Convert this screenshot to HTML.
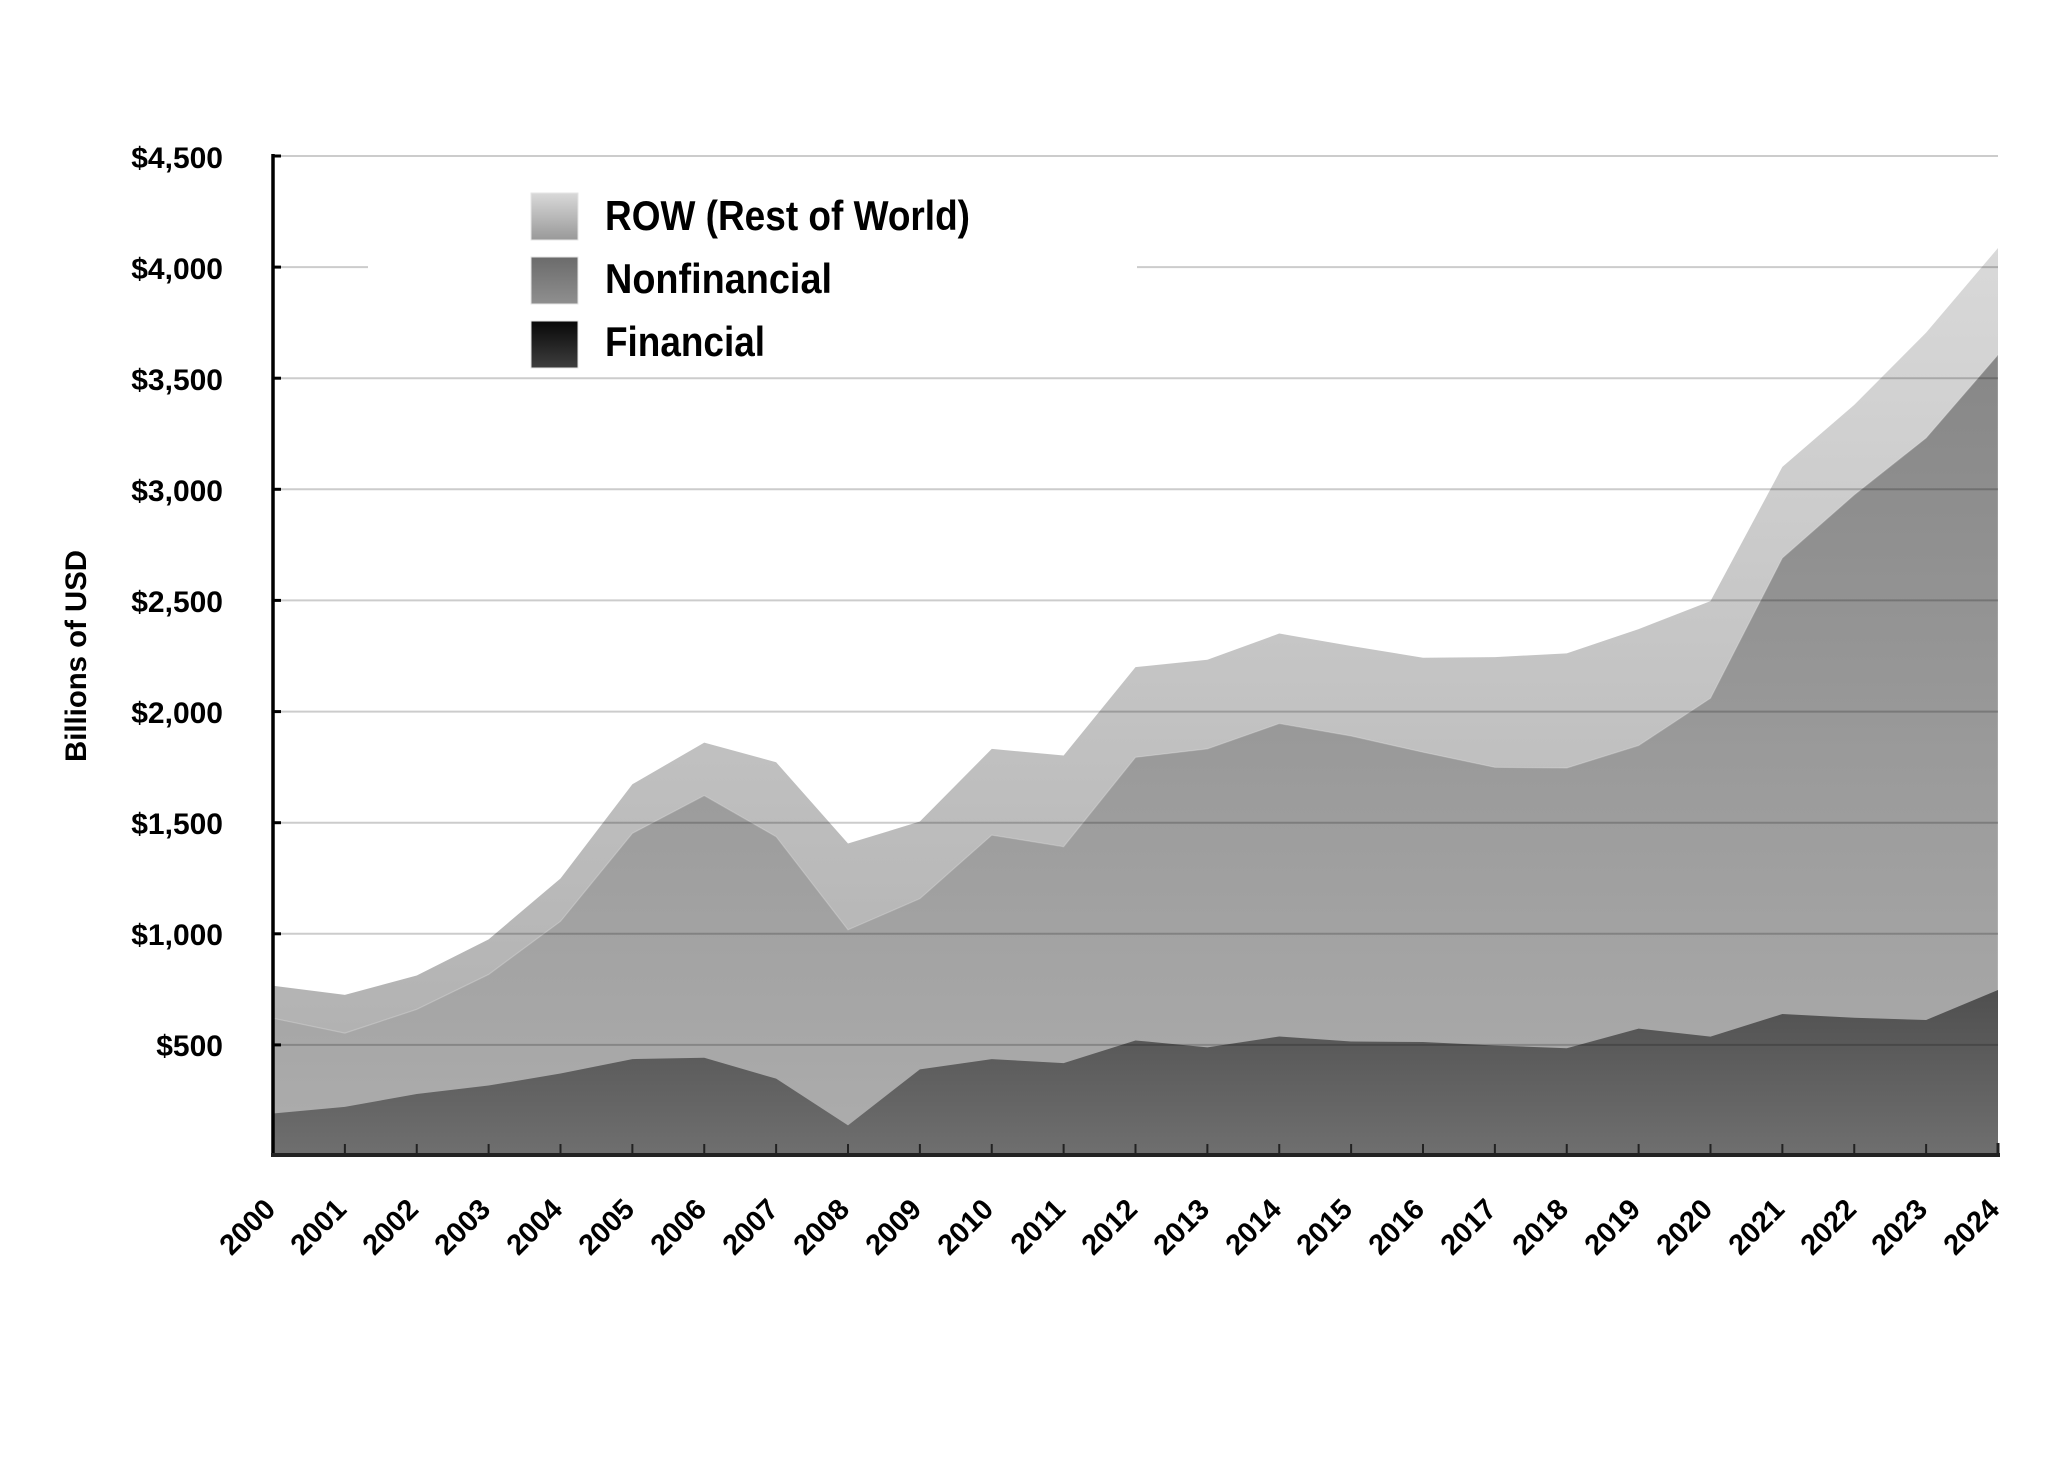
<!DOCTYPE html>
<html>
<head>
<meta charset="utf-8">
<style>
  html, body { margin: 0; padding: 0; background: #ffffff; }
  svg { display: block; }
  text { font-family: "Liberation Sans", "DejaVu Sans", sans-serif; font-weight: bold; fill: #000; }
</style>
</head>
<body>
<svg width="2048" height="1462" viewBox="0 0 2048 1462" xmlns="http://www.w3.org/2000/svg">
  <defs>
    <linearGradient id="gRow" gradientUnits="userSpaceOnUse" x1="0" y1="248" x2="0" y2="1156">
      <stop offset="0" stop-color="#d9d9d9"/>
      <stop offset="1" stop-color="#acacac"/>
    </linearGradient>
    <linearGradient id="gNon" gradientUnits="userSpaceOnUse" x1="0" y1="355" x2="0" y2="1156">
      <stop offset="0" stop-color="#878787"/>
      <stop offset="1" stop-color="#adadad"/>
    </linearGradient>
    <linearGradient id="gFin" gradientUnits="userSpaceOnUse" x1="0" y1="990" x2="0" y2="1156">
      <stop offset="0" stop-color="#4f4f4f"/>
      <stop offset="1" stop-color="#6f6f6f"/>
    </linearGradient>
    <linearGradient id="sRow" x1="0" y1="0" x2="0" y2="1">
      <stop offset="0" stop-color="#d9d9d9"/>
      <stop offset="1" stop-color="#999999"/>
    </linearGradient>
    <linearGradient id="sNon" x1="0" y1="0" x2="0" y2="1">
      <stop offset="0" stop-color="#6b6b6b"/>
      <stop offset="1" stop-color="#8f8f8f"/>
    </linearGradient>
    <linearGradient id="sFin" x1="0" y1="0" x2="0" y2="1">
      <stop offset="0" stop-color="#080808"/>
      <stop offset="1" stop-color="#3e3e3e"/>
    </linearGradient>
  </defs>

  <!-- ROW (total) area -->
  <polygon fill="url(#gRow)" points="273,1156 273,985.78 344.875,994.89 416.75,975.56 488.625,939.33 560.5,878.44 632.375,784.22 704.25,742.67 776.125,762.22 848,843.56 919.875,821.56 991.75,748.89 1063.625,755.56 1135.5,667.11 1207.375,659.78 1279.25,633.56 1351.125,646 1423,657.78 1494.875,657.11 1566.75,653.33 1638.625,629.11 1710.5,601.11 1782.375,466.89 1854.25,404.89 1926.125,332.67 1998,248 1998,1156"/>

  <!-- Nonfinancial (cumulative) area -->
  <polygon fill="url(#gNon)" stroke="rgba(255,255,255,0.22)" stroke-width="1.2" points="273,1156 273,1018.22 344.875,1033.11 416.75,1009.33 488.625,974.44 560.5,921.33 632.375,833.33 704.25,795.56 776.125,836.67 848,929.78 919.875,898.67 991.75,835.11 1063.625,846.67 1135.5,757.33 1207.375,748.89 1279.25,723.56 1351.125,736 1423,752.22 1494.875,767.33 1566.75,768 1638.625,745.56 1710.5,698.22 1782.375,558 1854.25,494.89 1926.125,438 1998,354.89 1998,1156"/>

  <!-- Financial area -->
  <polygon fill="url(#gFin)" points="273,1156 273,1113.56 344.875,1106.89 416.75,1094 488.625,1085.56 560.5,1073.56 632.375,1059.11 704.25,1057.78 776.125,1078.67 848,1125.33 919.875,1069.33 991.75,1059.11 1063.625,1063.11 1135.5,1040.44 1207.375,1047.33 1279.25,1036.44 1351.125,1041.56 1423,1042 1494.875,1045.56 1566.75,1048.22 1638.625,1028.67 1710.5,1036.67 1782.375,1014 1854.25,1017.78 1926.125,1020 1998,990 1998,1156"/>

  <!-- Gridlines -->
  <g stroke="rgba(0,0,0,0.2)" stroke-width="2" fill="none">
    <line x1="273" y1="156" x2="1998" y2="156"/>
    <line x1="273" y1="267.1" x2="368" y2="267.1"/>
    <line x1="1137" y1="267.1" x2="1998" y2="267.1"/>
    <line x1="273" y1="378.2" x2="1998" y2="378.2"/>
    <line x1="273" y1="489.3" x2="1998" y2="489.3"/>
    <line x1="273" y1="600.4" x2="1998" y2="600.4"/>
    <line x1="273" y1="711.6" x2="1998" y2="711.6"/>
    <line x1="273" y1="822.7" x2="1998" y2="822.7"/>
    <line x1="273" y1="933.8" x2="1998" y2="933.8"/>
    <line x1="273" y1="1044.9" x2="1998" y2="1044.9"/>
  </g>

  <!-- Left axis -->
  <line x1="273" y1="154" x2="273" y2="1157" stroke="#000" stroke-width="3.5"/>
  <g stroke="#000" stroke-width="3">
    <line x1="273" y1="156" x2="281" y2="156"/>
    <line x1="273" y1="267.1" x2="281" y2="267.1"/>
    <line x1="273" y1="378.2" x2="281" y2="378.2"/>
    <line x1="273" y1="489.3" x2="281" y2="489.3"/>
    <line x1="273" y1="600.4" x2="281" y2="600.4"/>
    <line x1="273" y1="711.6" x2="281" y2="711.6"/>
    <line x1="273" y1="822.7" x2="281" y2="822.7"/>
    <line x1="273" y1="933.8" x2="281" y2="933.8"/>
    <line x1="273" y1="1044.9" x2="281" y2="1044.9"/>
  </g>

  <!-- Bottom axis -->
  <line x1="271" y1="1155" x2="2000" y2="1155" stroke="#222" stroke-width="4"/>
  <g stroke="#222" stroke-width="2">
    <line x1="344.875" y1="1144" x2="344.875" y2="1155"/>
    <line x1="416.75" y1="1144" x2="416.75" y2="1155"/>
    <line x1="488.625" y1="1144" x2="488.625" y2="1155"/>
    <line x1="560.5" y1="1144" x2="560.5" y2="1155"/>
    <line x1="632.375" y1="1144" x2="632.375" y2="1155"/>
    <line x1="704.25" y1="1144" x2="704.25" y2="1155"/>
    <line x1="776.125" y1="1144" x2="776.125" y2="1155"/>
    <line x1="848" y1="1144" x2="848" y2="1155"/>
    <line x1="919.875" y1="1144" x2="919.875" y2="1155"/>
    <line x1="991.75" y1="1144" x2="991.75" y2="1155"/>
    <line x1="1063.625" y1="1144" x2="1063.625" y2="1155"/>
    <line x1="1135.5" y1="1144" x2="1135.5" y2="1155"/>
    <line x1="1207.375" y1="1144" x2="1207.375" y2="1155"/>
    <line x1="1279.25" y1="1144" x2="1279.25" y2="1155"/>
    <line x1="1351.125" y1="1144" x2="1351.125" y2="1155"/>
    <line x1="1423" y1="1144" x2="1423" y2="1155"/>
    <line x1="1494.875" y1="1144" x2="1494.875" y2="1155"/>
    <line x1="1566.75" y1="1144" x2="1566.75" y2="1155"/>
    <line x1="1638.625" y1="1144" x2="1638.625" y2="1155"/>
    <line x1="1710.5" y1="1144" x2="1710.5" y2="1155"/>
    <line x1="1782.375" y1="1144" x2="1782.375" y2="1155"/>
    <line x1="1854.25" y1="1144" x2="1854.25" y2="1155"/>
    <line x1="1926.125" y1="1144" x2="1926.125" y2="1155"/>
    <line x1="1998" y1="1143" x2="1998" y2="1155" stroke-width="3"/>
  </g>

  <!-- Y tick labels -->
  <g font-size="30" text-anchor="end">
    <text x="223" y="168">$4,500</text>
    <text x="223" y="279">$4,000</text>
    <text x="223" y="390">$3,500</text>
    <text x="223" y="501">$3,000</text>
    <text x="223" y="612">$2,500</text>
    <text x="223" y="723">$2,000</text>
    <text x="223" y="834">$1,500</text>
    <text x="223" y="945">$1,000</text>
    <text x="223" y="1056">$500</text>
  </g>

  <!-- Y axis title -->
  <text x="0" y="0" font-size="30" text-anchor="middle" textLength="212" lengthAdjust="spacingAndGlyphs" transform="translate(86,656) rotate(-90)">Billions of USD</text>

  <!-- X tick labels -->
  <g font-size="29" text-anchor="end">
    <text transform="translate(277,1211) rotate(-45)">2000</text>
    <text transform="translate(348,1211) rotate(-45)">2001</text>
    <text transform="translate(420,1211) rotate(-45)">2002</text>
    <text transform="translate(492,1211) rotate(-45)">2003</text>
    <text transform="translate(564,1211) rotate(-45)">2004</text>
    <text transform="translate(636,1211) rotate(-45)">2005</text>
    <text transform="translate(708,1211) rotate(-45)">2006</text>
    <text transform="translate(780,1211) rotate(-45)">2007</text>
    <text transform="translate(851,1211) rotate(-45)">2008</text>
    <text transform="translate(923,1211) rotate(-45)">2009</text>
    <text transform="translate(995,1211) rotate(-45)">2010</text>
    <text transform="translate(1067,1211) rotate(-45)">2011</text>
    <text transform="translate(1139,1211) rotate(-45)">2012</text>
    <text transform="translate(1211,1211) rotate(-45)">2013</text>
    <text transform="translate(1283,1211) rotate(-45)">2014</text>
    <text transform="translate(1354,1211) rotate(-45)">2015</text>
    <text transform="translate(1426,1211) rotate(-45)">2016</text>
    <text transform="translate(1498,1211) rotate(-45)">2017</text>
    <text transform="translate(1570,1211) rotate(-45)">2018</text>
    <text transform="translate(1642,1211) rotate(-45)">2019</text>
    <text transform="translate(1714,1211) rotate(-45)">2020</text>
    <text transform="translate(1786,1211) rotate(-45)">2021</text>
    <text transform="translate(1858,1211) rotate(-45)">2022</text>
    <text transform="translate(1929,1211) rotate(-45)">2023</text>
    <text transform="translate(2001,1211) rotate(-45)">2024</text>
  </g>

  <!-- Legend -->
  <rect x="531" y="193" width="47" height="47" fill="url(#sRow)" stroke="#e6e6e6" stroke-width="1"/>
  <rect x="531" y="257" width="47" height="47" fill="url(#sNon)" stroke="#e6e6e6" stroke-width="1"/>
  <rect x="531" y="321" width="47" height="47" fill="url(#sFin)" stroke="#e6e6e6" stroke-width="1"/>
  <g font-size="42">
    <text x="605" y="230" textLength="365" lengthAdjust="spacingAndGlyphs">ROW (Rest of World)</text>
    <text x="605" y="293" textLength="227" lengthAdjust="spacingAndGlyphs">Nonfinancial</text>
    <text x="605" y="356" textLength="160" lengthAdjust="spacingAndGlyphs">Financial</text>
  </g>
</svg>
</body>
</html>
